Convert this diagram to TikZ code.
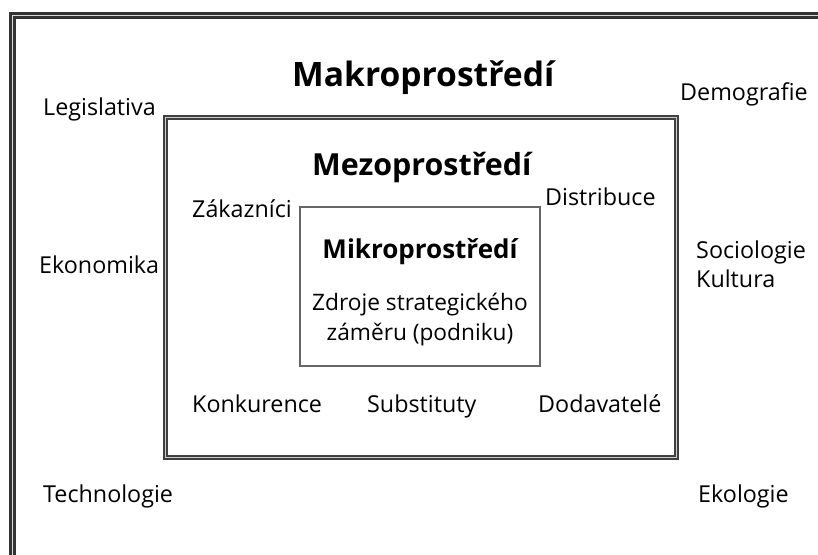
\documentclass[tikz,border=0pt]{standalone}
\usepackage{fontspec}
\setmainfont{Open Sans}
\usepackage{tikz}
\usetikzlibrary{positioning}
\tikzset{frame/.style={draw=black!80,line width=3pt,double=black!15,double distance=1pt},
		mezobox/.style={rectangle,draw=black!75,line width=2pt,double=black!20,double distance=1pt,inner sep=0pt},
		mikrobox/.style={rectangle,draw=black!60,line width=1.6pt,inner sep=0pt},
		factor/.style={font=\fontsize{23.3}{30}\selectfont,inner sep=0pt,anchor=base west},
		title/.style={font=\fontsize{30.4}{36}\selectfont\bfseries,inner sep=0pt,anchor=base west}}

\begin{document}
\begin{tikzpicture}[x=1pt,y=-1pt]
		\useasboundingbox[fill=white] (0,0) rectangle (818,554);
		\coordinate (frame-bottom) at (12.5,570);
		\coordinate (frame-right) at (840,15);
		\draw[frame] (frame-bottom) |- (frame-right);
		\node[mezobox,minimum width=511pt,minimum height=340pt] (mezo) at (420.5,287) {};
		\node[mikrobox,minimum width=240pt,minimum height=159pt] (mikro) at (420,286.5) {};

		% makro
		\node[title,font=\fontsize{33.6}{40}\selectfont\bfseries] (makro-title) at (292,86) {Makroprostředí};
		\node[factor] (legislativa) at (43,115) {Legislativa};
		\node[factor] (demografie) at (680,100) {Demografie};
		\node[factor] (ekonomika) at (39,273) {Ekonomika};
		\node[factor] (sociologie) at (696,258) {Sociologie};
		\node[factor,below=29pt of sociologie.base west,anchor=base west] (kultura) {Kultura};
		\node[factor] (technologie) at (43,502) {Technologie};
		\node[factor] (ekologie) at (698,502) {Ekologie};

		% mezo
		\node[title] (mezo-title) at (312,175) {Mezoprostředí};
		\node[factor] (zakaznici) at (192,217) {Zákazníci};
		\node[factor] (distribuce) at (545,205) {Distribuce};
		\node[factor] (konkurence) at (192,412) {Konkurence};
		\node[factor] (substituty) at (367,412) {Substituty};
		\node[factor] (dodavatele) at (538,412) {Dodavatelé};

		% mikro
		\node[title,font=\fontsize{26}{30}\selectfont\bfseries,anchor=base] (mikro-title) at (420,258) {Mikroprostředí};
		\node[factor,font=\fontsize{22.7}{30}\selectfont,anchor=base] (zdroje) at (420,310) {Zdroje strategického};
		\node[factor,font=\fontsize{22.7}{30}\selectfont,below=30pt of zdroje.base,anchor=base] (zameru) {záměru (podniku)};
	\end{tikzpicture}
\end{document}
